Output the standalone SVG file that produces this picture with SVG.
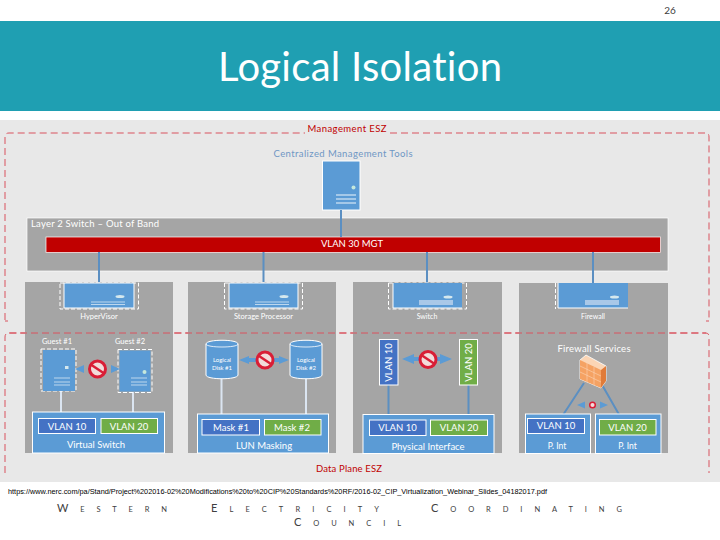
<svg xmlns="http://www.w3.org/2000/svg" width="720" height="540" viewBox="0 0 720 540">
<style>
text{font-family:"Lato","Open Sans","Liberation Sans",sans-serif;text-anchor:middle;font-variant-ligatures:none}
.box{fill:#a5a5a5}
.blue{fill:#5b9bd5}
.bw{fill:#5b9bd5;stroke:#fff;stroke-width:1}
.v10{fill:#4472c4;stroke:#fff;stroke-width:1}
.v20{fill:#70ad47;stroke:#fff;stroke-width:1}
.dash{fill:none;stroke:#d9525e;stroke-width:1;stroke-dasharray:7 4}
.wd{fill:none;stroke:#fff;stroke-width:1;stroke-dasharray:4 2}
.w{fill:#fff;font-size:7.5px}
.wm{fill:#fff;font-size:9.5px}
.wv{fill:#fff;font-size:9.5px}
.red{fill:#c00000;font-size:9.5px}
.l{stroke:#5b8fc2;stroke-width:2;fill:none}
.lw{stroke:#dbe5f1;stroke-width:2;fill:none}
.ar{fill:#5b9bd5}
.bar{fill:#bdd7ee}
.wc{fill:#404040;font-size:7.5px;text-anchor:start}
.wc tspan{font-size:11px}
</style>
<rect width="720" height="540" fill="#fff"/>
<rect x="0" y="21" width="720" height="90" fill="#1f9fb2"/>
<text x="670" y="14" style="font-size:10px;fill:#404040">26</text>
<text x="360" y="81" textLength="284" style="font-size:40px;fill:#fff">Logical Isolation</text>
<rect x="0" y="120" width="720" height="362" fill="#e8e8e8"/>

<g id="zones">
<path class="dash" d="M5 320V137Q5 133 9 133H305M390 133H706Q709 133 709 137V320"/>
<path class="dash" d="M8 321H5M706 321H709"/>
<path class="dash" d="M5 473V337Q5 333 9 333H706Q709 333 709 337V473"/>
<text class="red" x="347" y="132" textLength="79">Management ESZ</text>
<text class="red" x="349" y="472" textLength="66">Data Plane ESZ</text>
</g>

<g id="layer2-switch">
<rect x="27" y="218" width="641" height="53" fill="#a5a5a5" stroke="#fff" stroke-width="0.7"/>
<text x="95" y="227" textLength="128" style="fill:#fff;font-size:9.5px">Layer 2 Switch – Out of Band</text>
<rect x="46" y="237" width="614.500" height="15.500" fill="#c00000" stroke="#fff" stroke-width="0.7"/>
<text class="wm" x="352" y="247">VLAN 30 MGT</text>
</g>

<g id="hosts-bg">
<rect class="box" x="25" y="282" width="148" height="171"/>
<rect class="box" x="188" y="282" width="148" height="171"/>
<rect class="box" x="353" y="282" width="149" height="171"/>
<rect class="box" x="519" y="283" width="149" height="170"/>
<path class="dash" d="M9 333H706"/>
</g>

<g id="management-tools">
<text x="343" y="157" textLength="139" style="fill:#6f97c4;font-size:9.5px">Centralized Management Tools</text>
<rect class="blue" x="322.500" y="161" width="37.500" height="49" stroke="#fff"/>
<circle cx="353.500" cy="187.500" r="2" fill="#c5e8dc"/>
<path d="M336 195H356M336 199H356M336 203H356" stroke="#bdd7ee" stroke-width="1.500"/>
</g>

<g id="connectors">
<path class="l" d="M341 210V237M99 252V294M263.500 252V282M427 252V284M593 252V296"/>
<path class="lw" d="M61 391V412M133 392V412M221.500 375V414M306 375V414"/>
<path class="l" d="M388.500 385V415M468.500 385V415M584 383L561 418M601 383L621 418"/>
</g>

<g id="hypervisor">
<rect class="wd" x="60" y="283" width="78.500" height="26"/>
<rect class="bw" x="64" y="283" width="70" height="25"/>
<ellipse cx="120" cy="296.500" rx="4.500" ry="1.500" fill="#d5e8ee"/>
<path d="M91 302H125M91 304.500H125" stroke="#bdd7ee"/>
<text class="w" x="99" y="319">HyperVisor</text>
<rect class="wd" x="41" y="349" width="35" height="42"/>
<rect class="blue" x="43" y="350" width="32" height="41"/>
<rect x="65" y="366" width="3.500" height="3" fill="#d5e8ee"/>
<path d="M54 378H70M54 382H70M54 385H70" stroke="#bdd7ee" stroke-width="1.200"/>
<text class="w" x="57" y="344">Guest #1</text>
<rect class="wd" x="118" y="349.500" width="34" height="43"/>
<rect class="blue" x="119.500" y="350.500" width="31" height="41"/>
<circle cx="144.500" cy="372" r="2" fill="#c5e8dc"/>
<path d="M131 378H147M131 382H147M131 385H147" stroke="#bdd7ee" stroke-width="1.200"/>
<text class="w" x="130" y="344">Guest #2</text>
<path class="ar" d="M75 369L84 365V373ZM120 369L111 365V373Z"/>
<g class="no" transform="translate(97.500 369)"><circle r="8" fill="#f2dcdb" stroke="#d91e36" stroke-width="3"/><path d="M-6 -4L6 4" stroke="#d91e36" stroke-width="2.500"/></g>
<rect class="bw" x="32.500" y="412" width="132" height="41"/>
<rect class="v10" x="38.500" y="418.500" width="57" height="15"/>
<rect class="v20" x="101" y="418.500" width="56.500" height="15"/>
<text class="wv" x="67" y="429.500">VLAN 10</text>
<text class="wv" x="129" y="429.500">VLAN 20</text>
<text class="wm" x="96" y="448">Virtual Switch</text>
</g>

<g id="storage">
<rect class="wd" x="224.500" y="283" width="78" height="26"/>
<rect class="bw" x="229" y="283" width="69" height="25"/>
<ellipse cx="284" cy="296.500" rx="4.500" ry="1.500" fill="#d5e8ee"/>
<path d="M255 302H289M255 304.500H289" stroke="#bdd7ee"/>
<text class="w" x="263.500" y="319">Storage Processor</text>
<path class="bw" d="M206 344C206 339 238 339 238 344V375C238 380 206 380 206 375Z"/>
<path d="M206 344C206 348 238 348 238 344" fill="none" stroke="#fff" stroke-width="0.800"/>
<text class="w" x="222" y="362" style="font-size:6px">Logical</text>
<text class="w" x="222" y="370" style="font-size:6px">Disk #1</text>
<path class="bw" d="M290 344C290 339 322 339 322 344V375C322 380 290 380 290 375Z"/>
<path d="M290 344C290 348 322 348 322 344" fill="none" stroke="#fff" stroke-width="0.800"/>
<text class="w" x="306" y="362" style="font-size:6px">Logical</text>
<text class="w" x="306" y="370" style="font-size:6px">Disk #2</text>
<path class="ar" d="M239 360L249 356V358H257V362H249V364ZM289 360L279 356V358H272V362H279V364Z"/>
<g class="no" transform="translate(265 360)"><circle r="8" fill="#f2dcdb" stroke="#d91e36" stroke-width="3"/><path d="M-6 -4L6 4" stroke="#d91e36" stroke-width="2.500"/></g>
<rect class="bw" x="197.500" y="414" width="131" height="39"/>
<rect class="v10" x="202" y="419.500" width="57.500" height="15.500"/>
<rect class="v20" x="264.500" y="419.500" width="56.500" height="15.500"/>
<text class="wv" x="231" y="430.500">Mask #1</text>
<text class="wv" x="292" y="430.500">Mask #2</text>
<text class="wm" x="264" y="449">LUN Masking</text>
</g>

<g id="switch">
<rect class="wd" x="388.500" y="283" width="78" height="26"/>
<rect class="blue" x="393" y="283" width="69" height="25"/>
<path d="M393 283V308H462" fill="none" stroke="#fff"/>
<ellipse cx="448" cy="297" rx="4.500" ry="1.500" fill="#d5e8ee"/>
<rect x="419" y="300" width="34" height="5" fill="#a9c8e8"/>
<text class="w" x="427" y="319" style="font-size:7px">Switch</text>
<rect class="v10" x="379.500" y="339.500" width="18.500" height="45.500"/>
<text class="wv" transform="translate(392 362.500) rotate(-90)">VLAN 10</text>
<rect class="v20" x="459.500" y="339.500" width="18" height="45.500"/>
<text class="wv" transform="translate(472 362.500) rotate(-90)">VLAN 20</text>
<path class="ar" d="M402 359L414 354V357H420V361H414V364ZM452 359L440 354V357H436V361H440V364Z"/>
<g class="no" transform="translate(428 359.500)"><circle r="8" fill="#f2dcdb" stroke="#d91e36" stroke-width="3"/><path d="M-6 -4L6 4" stroke="#d91e36" stroke-width="2.500"/></g>
<rect class="bw" x="363" y="414.500" width="131" height="39"/>
<rect class="v10" x="369.500" y="420" width="56.500" height="15.500"/>
<rect class="v20" x="430.500" y="420" width="57" height="15.500"/>
<text class="wv" x="397.500" y="430.500">VLAN 10</text>
<text class="wv" x="459" y="430.500">VLAN 20</text>
<text class="wm" x="428" y="450">Physical Interface</text>
</g>

<g id="firewall">
<rect class="blue" x="558" y="283" width="70" height="25"/>
<path d="M558 283V308H628" fill="none" stroke="#fff"/>
<path class="wd" d="M555.500 283V309"/>
<ellipse cx="614.500" cy="297" rx="4.500" ry="1.500" fill="#d5e8ee"/>
<rect x="585" y="300" width="34" height="5" fill="#a9c8e8"/>
<text class="w" x="593" y="319" style="font-size:7px">Firewall</text>
<text class="wm" x="594" y="352" textLength="73">Firewall Services</text>
<path d="M580 360L586 355L606 366V381L601 388L580 379Z" fill="#fbd5b5" stroke="#fff" stroke-width="0.800"/>
<path d="M580 360L601 370V388L580 379Z" fill="#f5a263"/>
<path d="M601 370L606 366V381L601 388Z" fill="#e07b39"/>
<path d="M580 366L601 376M580 372L601 382M587 363V382M594 367V385" stroke="#fbd5b5" stroke-width="0.600"/>
<path class="ar" d="M577 405L585 401.500V408.500ZM608 405L600 401.500V408.500Z"/>
<g class="no" transform="translate(592.500 405)"><circle r="2.800" fill="#f2dcdb" stroke="#d91e36" stroke-width="1.500"/></g>
<rect class="bw" x="525.500" y="414" width="65" height="39.500"/>
<rect class="v10" x="527.500" y="418.500" width="57" height="15"/>
<text class="wv" x="556" y="429">VLAN 10</text>
<text class="wm" x="557" y="449" style="font-size:8.500px">P. Int</text>
<rect class="bw" x="595.500" y="414" width="65.500" height="39.500" />
<rect class="v20" x="599.500" y="419.500" width="56.500" height="15.500"/>
<text class="wv" x="627.500" y="430.500">VLAN 20</text>
<text class="wm" x="627.500" y="449" style="font-size:8.500px">P. Int</text>
</g>

<text x="277.500" y="494" textLength="539" lengthAdjust="spacingAndGlyphs" style="font-family:'Liberation Sans',sans-serif;font-size:7.500px;fill:#000">https://www.nerc.com/pa/Stand/Project%202016-02%20Modifications%20to%20CIP%20Standards%20RF/2016-02_CIP_Virtualization_Webinar_Slides_04182017.pdf</text>

<g id="footer">
<text class="wc" x="57" y="512" textLength="110"><tspan>W</tspan>ESTERN</text>
<text class="wc" x="211" y="512" textLength="168"><tspan>E</tspan>LECTRICITY</text>
<text class="wc" x="431" y="512" textLength="191"><tspan>C</tspan>OORDINATING</text>
<text class="wc" x="294" y="526" textLength="107"><tspan>C</tspan>OUNCIL</text>
</g>
</svg>
